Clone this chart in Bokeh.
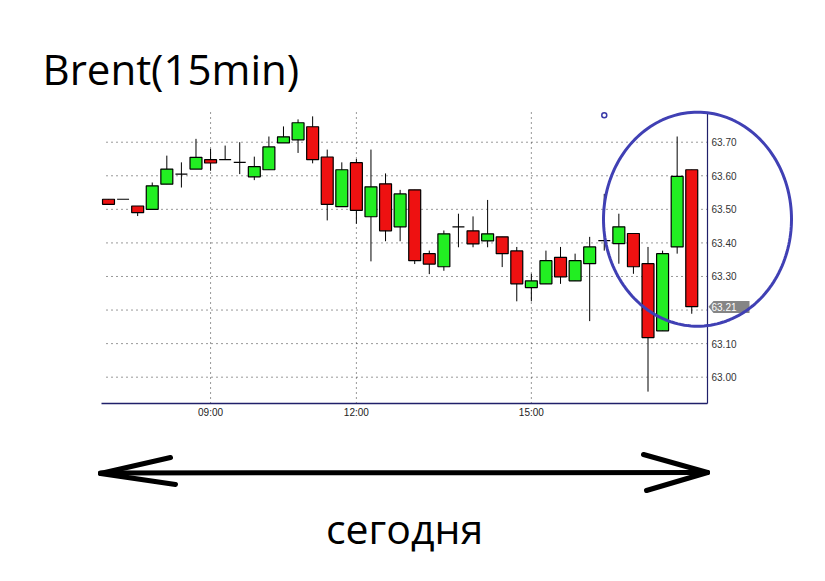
import numpy as np
from bokeh.plotting import figure
from bokeh.models import (Range1d, FixedTicker, Label, PolyAnnotation, ColumnDataSource,
                          PrintfTickFormatter, LinearAxis)
from bokeh.embed import file_html
from bokeh.resources import INLINE

# ---------------- data ----------------
candle_idx = list(range(41))
opens = [63.53, 63.53, 63.51, 63.50, 63.575, 63.605, 63.62, 63.648, 63.648, 63.64,
         63.597, 63.618, 63.698, 63.707, 63.746, 63.656, 63.508, 63.639, 63.478, 63.576,
         63.448, 63.558, 63.368, 63.329, 63.448, 63.436, 63.406, 63.418, 63.376, 63.267,
         63.278, 63.357, 63.287, 63.338, 63.407, 63.398, 63.428, 63.338, 63.138, 63.388,
         63.618]
highs = [63.53, 63.53, 63.51, 63.58, 63.66, 63.64, 63.71, 63.68, 63.69, 63.70,
         63.657, 63.717, 63.747, 63.768, 63.777, 63.678, 63.640, 63.650, 63.678, 63.607,
         63.558, 63.558, 63.377, 63.437, 63.487, 63.479, 63.528, 63.418, 63.388, 63.308,
         63.377, 63.388, 63.368, 63.418, 63.546, 63.487, 63.428, 63.388, 63.377, 63.717,
         63.618]
lows = [63.515, 63.53, 63.48, 63.50, 63.575, 63.565, 63.62, 63.615, 63.648, 63.605,
        63.587, 63.618, 63.698, 63.668, 63.637, 63.467, 63.508, 63.457, 63.345, 63.405,
        63.405, 63.337, 63.307, 63.317, 63.387, 63.387, 63.387, 63.328, 63.226, 63.226,
        63.278, 63.278, 63.287, 63.167, 63.377, 63.338, 63.308, 62.957, 63.138, 63.368,
        63.189]
closes = [63.515, 63.53, 63.49, 63.57, 63.62, 63.605, 63.655, 63.638, 63.648, 63.64,
          63.627, 63.686, 63.716, 63.758, 63.648, 63.515, 63.618, 63.497, 63.567, 63.436,
          63.546, 63.347, 63.337, 63.427, 63.448, 63.397, 63.427, 63.368, 63.278, 63.287,
          63.347, 63.299, 63.347, 63.388, 63.407, 63.448, 63.329, 63.118, 63.368, 63.598,
          63.21]
time_tick_pos = [7, 17, 29]
time_tick_labels = ["09:00", "12:00", "15:00"]
price_ticks = [63.0, 63.1, 63.2, 63.3, 63.4, 63.5, 63.6, 63.7]
price_labels = ["63.00", "63.10", "", "63.30", "63.40", "63.50", "63.60", "63.70"]
last_price = 63.21
marker_x = [34]
marker_y = [63.78]
title_text = "Brent(15min)"
caption_text = "сегодня"

# ---------------- geometry of the price panel ----------------
X0, X1 = -0.48, 41.08          # index range of the price panel
Y0, Y1 = 62.9216, 63.7885      # price range of the price panel
FW, FH = 606, 291              # panel size in pixels
FL, FT = 101, 112              # panel position on the canvas
W, H = 809, 565


def dx(px):
    return X0 + (px - FL) * (X1 - X0) / FW


def dy(py):
    return Y1 - (py - FT) * (Y1 - Y0) / FH


p = figure(width=W, height=H, output_backend="svg", toolbar_location=None,
           x_range=Range1d(dx(0), dx(W)), y_range=Range1d(dy(H), dy(0)),
           x_axis_location=None, y_axis_location=None,
           min_border_left=0, min_border_right=0, min_border_top=0, min_border_bottom=0)
p.outline_line_color = None
p.background_fill_color = "white"
p.border_fill_color = "white"
p.xgrid.visible = False
p.ygrid.visible = False

# axes drawn at fixed locations (panel borders)
xax = LinearAxis(fixed_location=Y0, bounds=(X0, X1), ticker=FixedTicker(ticks=time_tick_pos))
xax.major_label_overrides = {t: l for t, l in zip(time_tick_pos, time_tick_labels)}
xax.axis_line_color = "#20206a"
xax.axis_line_width = 1.5
xax.major_tick_out = 0
xax.major_tick_in = 0
xax.minor_tick_out = 0
xax.minor_tick_in = 0
xax.major_label_standoff = 3
xax.major_label_text_font = "Liberation Sans"
xax.major_label_text_font_size = "10px"
xax.major_label_text_color = "#222222"
p.add_layout(xax, "below")

yax = LinearAxis(fixed_location=X1, bounds=(Y0, Y1), ticker=FixedTicker(ticks=price_ticks),
                 formatter=PrintfTickFormatter(format="%.2f"))
yax.major_label_overrides = {t: l for t, l in zip(price_ticks, price_labels)}
yax.axis_line_color = "#20206a"
yax.axis_line_width = 1.2
yax.major_tick_out = 0
yax.major_tick_in = 0
yax.minor_tick_out = 0
yax.minor_tick_in = 0
yax.major_label_standoff = 4
yax.major_label_text_font = "Liberation Sans"
yax.major_label_text_font_size = "10px"
yax.major_label_text_color = "#333333"
p.add_layout(yax, "right")

# dotted grid lines inside the price panel
p.segment(x0=dx(106), x1=X1, y0=price_ticks, y1=price_ticks, line_color="#333333",
          line_dash="1 4", line_width=1)
p.segment(x0=time_tick_pos, x1=time_tick_pos, y0=Y0, y1=Y1, line_color="#333333",
          line_dash="1 4", line_width=1)

# candles
up = [c >= o for o, c in zip(opens, closes)]
src = ColumnDataSource(dict(
    x=candle_idx,
    top=[max(o, c) for o, c in zip(opens, closes)],
    bottom=[min(o, c) for o, c in zip(opens, closes)],
    high=highs, low=lows,
    color=["#22ee22" if u else "#ee1111" for u in up],
))
p.segment(x0="x", y0="low", x1="x", y1="high", line_color="black", line_width=1, source=src)
p.vbar(x="x", width=0.82, top="top", bottom="bottom", fill_color="color",
       line_color="black", line_width=1.2, source=src)

# small marker
p.scatter(marker_x, marker_y, marker="circle", size=5, fill_color="white",
          line_color="#3a3aa8", line_width=1.5)

# price tag
tag_xs = [dx(708), dx(713), dx(749), dx(749), dx(713)]
tag_ys = [last_price, dy(300.5), dy(300.5), dy(312.5), dy(312.5)]
p.add_layout(PolyAnnotation(xs=tag_xs, ys=tag_ys, fill_color="#858585", fill_alpha=1,
                            line_color=None))
p.add_layout(Label(x=dx(711), y=last_price, text=f"{last_price:.2f}", text_color="white",
                   text_font="Liberation Sans", text_font_size="10px", text_baseline="middle"))

# ellipse highlight
th = np.linspace(0, 2 * np.pi, 181)
ex = [dx(697 + 94 * np.cos(t)) for t in th]
ey = [dy(218.7 + 107 * np.sin(t)) for t in th]
p.add_layout(PolyAnnotation(xs=ex, ys=ey, fill_alpha=0, line_color="#4040b4", line_alpha=1,
                            line_width=3))

# title and caption
p.add_layout(Label(x=dx(42), y=dy(68), text=title_text, text_font="Open Sans",
                   text_font_size="42px", text_color="black", text_baseline="alphabetic"))
p.add_layout(Label(x=dx(404), y=dy(527), text=caption_text, text_font="Open Sans",
                   text_font_size="41px", text_color="black", text_baseline="alphabetic",
                   text_align="center"))

# double arrow below the chart
segs = [((100, 472.5), (707, 472)),
        ((100, 473), (170, 457)), ((100, 473), (175, 484)),
        ((707, 472), (643, 454)), ((707, 472), (646, 490))]
for (ax, ay), (bx, by) in segs:
    p.add_layout(PolyAnnotation(xs=[dx(ax), dx(bx)], ys=[dy(ay), dy(by)], fill_alpha=0,
                                line_color="black", line_alpha=1, line_width=5,
                                line_cap="round", line_join="round"))

open("out.html", "w").write(file_html(p, INLINE))
